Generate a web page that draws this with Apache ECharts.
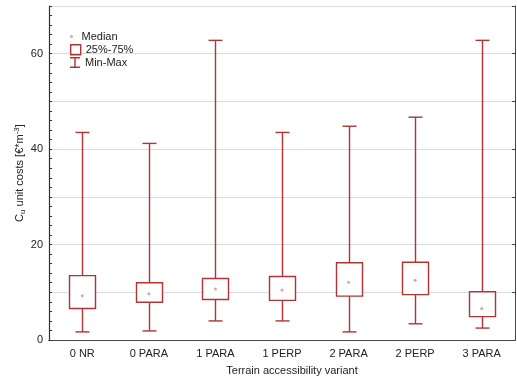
<!DOCTYPE html>
<html>
<head>
<meta charset="utf-8">
<script src="https://cdn.jsdelivr.net/npm/echarts@6/dist/echarts.min.js"></script>
<style>
  html, body { margin: 0; padding: 0; background: #fff; }
  #chart { width: 517px; height: 378px; }
</style>
</head>
<body>
<div id="chart"></div>
<script>
// Unit cost summary per terrain accessibility variant
const categories = ['0 NR', '0 PARA', '1 PARA', '1 PERP', '2 PARA', '2 PERP', '3 PARA'];
const minValues    = [1.7, 1.9, 4.0, 4.0, 1.7, 3.4, 2.5];
const q1Values     = [6.6, 7.9, 8.5, 8.3, 9.2, 9.5, 4.9];
const medianValues = [9.3, 9.7, 10.7, 10.5, 12.1, 12.5, 6.6];
const q3Values     = [13.5, 12.0, 12.9, 13.3, 16.2, 16.3, 10.1];
const maxValues    = [43.5, 41.2, 62.8, 43.5, 44.8, 46.7, 62.8];
const yTicks = [0, 20, 40, 60];

const RED = '#b03434';
const MEDIAN_COLOR = '#d98b8b';
const FONT = 'Liberation Sans, Arial, sans-serif';

const boxData = categories.map((c, i) => [i, minValues[i], q1Values[i], q3Values[i], maxValues[i]]);
const medianData = categories.map((c, i) => [i, medianValues[i]]);

const chart = echarts.init(document.getElementById('chart'));

function renderBox(params, api) {
  const x = api.value(0);
  const pMin = api.coord([x, api.value(1)]);
  const pQ1 = api.coord([x, api.value(2)]);
  const pQ3 = api.coord([x, api.value(3)]);
  const pMax = api.coord([x, api.value(4)]);
  const cx = Math.round(pMin[0]) + 0.5;
  const boxW = 26, capW = 14;
  const style = { stroke: RED, lineWidth: 1.4, fill: null };
  return {
    type: 'group',
    children: [
      { type: 'line', shape: { x1: cx, y1: pMax[1], x2: cx, y2: pQ3[1] }, style },
      { type: 'line', shape: { x1: cx, y1: pQ1[1], x2: cx, y2: pMin[1] }, style },
      { type: 'line', shape: { x1: cx - capW / 2, y1: pMax[1], x2: cx + capW / 2, y2: pMax[1] }, style },
      { type: 'line', shape: { x1: cx - capW / 2, y1: pMin[1], x2: cx + capW / 2, y2: pMin[1] }, style },
      { type: 'rect', shape: { x: cx - boxW / 2, y: pQ3[1], width: boxW, height: pQ1[1] - pQ3[1] },
        style: { stroke: RED, lineWidth: 1.4, fill: '#fff' } }
    ]
  };
}

const legendText = { fontSize: 11, color: '#222', fontFamily: FONT };

chart.setOption({
  animation: false,
  backgroundColor: '#fff',
  textStyle: { fontFamily: FONT },
  grid: { left: 49, right: 2, top: 6, bottom: 38, containLabel: false, outerBoundsMode: 'none' },
  xAxis: [{
    type: 'category',
    data: categories,
    boundaryGap: true,
    name: 'Terrain accessibility variant',
    nameLocation: 'middle',
    nameGap: 25,
    nameMoveOverlap: false,
    nameTextStyle: { fontSize: 11, color: '#222', fontFamily: FONT, padding: [0, 0, 0, 20] },
    axisLine: { lineStyle: { color: '#333', width: 1.2 } },
    axisTick: { inside: true, alignWithLabel: true, length: 3, lineStyle: { color: '#333' } },
    axisLabel: { fontSize: 11, color: '#222', margin: 8, fontFamily: FONT },
    splitLine: { show: false }
  }, {
    type: 'category',
    data: categories,
    position: 'top',
    boundaryGap: true,
    axisLine: { lineStyle: { color: '#444', width: 1 } },
    axisTick: { inside: true, alignWithLabel: true, length: 3, lineStyle: { color: '#444' } },
    axisLabel: { show: false },
    splitLine: { show: false }
  }],
  yAxis: [{
    type: 'value',
    min: 0, max: 70, interval: 10,
    name: '{a|C}{s|u}{a| unit costs [€*m}{p|-3}{a|]}',
    nameLocation: 'middle',
    nameGap: 22,
    nameMoveOverlap: false,
    nameTextStyle: {
      rich: {
        a: { fontSize: 11, color: '#222', fontFamily: FONT },
        s: { fontSize: 8, color: '#222', fontFamily: FONT, verticalAlign: 'bottom', padding: [6, 0, 0, 0] },
        p: { fontSize: 8, color: '#222', fontFamily: FONT, verticalAlign: 'top', padding: [0, 0, 6, 0] }
      }
    },
    axisLine: { show: true, lineStyle: { color: '#333', width: 1.2 } },
    axisTick: { show: true, inside: true, length: 3, lineStyle: { color: '#333' } },
    minorTick: { show: true, splitNumber: 5, length: 3, lineStyle: { color: '#333' } },
    axisLabel: {
      fontSize: 11, color: '#222', margin: 6, fontFamily: FONT,
      formatter: v => (yTicks.indexOf(v) >= 0 ? String(v) : '')
    },
    splitLine: { show: true, lineStyle: { color: '#dcdcdc', width: 1 } }
  }, {
    type: 'value',
    min: 0, max: 70, interval: 10,
    position: 'right',
    axisLine: { show: true, lineStyle: { color: '#444', width: 1 } },
    axisTick: { show: true, inside: true, length: 3, lineStyle: { color: '#444' } },
    axisLabel: { show: false },
    splitLine: { show: false }
  }],
  legend: [{
    left: 65, top: 26, itemWidth: 10, itemHeight: 3,
    textStyle: legendText,
    data: [{ name: 'Median', icon: 'circle', itemStyle: { color: MEDIAN_COLOR } }]
  }, {
    left: 65, top: 39, itemWidth: 10, itemHeight: 10,
    textStyle: legendText,
    data: [{ name: '25%-75%', icon: 'path://M0,0H10V10H0Z',
      itemStyle: { color: 'transparent', borderColor: RED, borderWidth: 1.4 } }]
  }, {
    left: 65, top: 52, itemWidth: 10, itemHeight: 11,
    textStyle: legendText,
    data: [{ name: 'Min-Max', icon: 'path://M0,0H10V1.4H5.7V9.6H10V11H0V9.6H4.3V1.4H0Z',
      itemStyle: { color: RED } }]
  }],
  series: [{
    name: '25%-75%',
    type: 'custom',
    renderItem: renderBox,
    encode: { x: 0, y: [1, 2, 3, 4] },
    data: boxData,
    z: 2
  }, {
    name: 'Min-Max',
    type: 'custom',
    renderItem: () => ({ type: 'group', children: [] }),
    data: []
  }, {
    name: 'Median',
    type: 'scatter',
    symbol: 'circle',
    symbolSize: 3,
    itemStyle: { color: MEDIAN_COLOR },
    data: medianData,
    z: 5
  }]
});
</script>
</body>
</html>
